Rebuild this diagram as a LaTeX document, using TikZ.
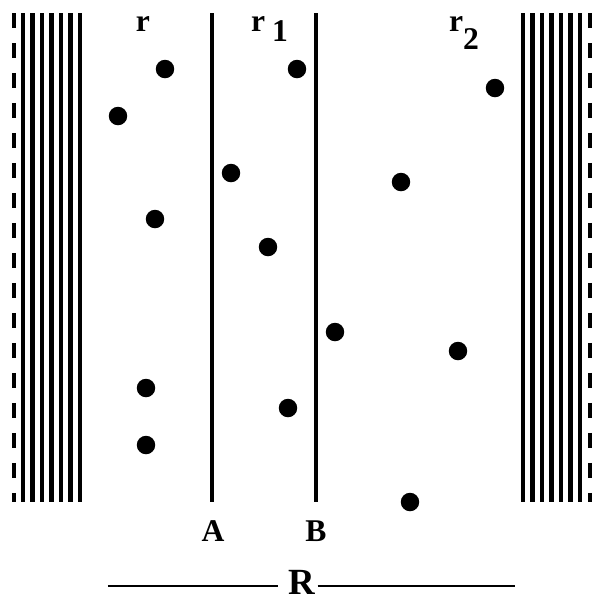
\documentclass[tikz,border=0pt]{standalone}
\usepackage{fontspec}
\setmainfont{Liberation Serif}[BoldFont={Liberation Serif Bold}]
\usepackage{tikz}
\usetikzlibrary{positioning}

\tikzset{
  particle/.style={circle, fill=black, inner sep=0pt, minimum size=0.37cm},
  lab/.style={font=\bfseries\fontsize{18}{18}\selectfont, inner sep=1pt},
  hatch/.style={line width=2.3pt},
  plane/.style={line width=2.4pt},
  wall/.style={line width=2.2pt, dash pattern=on 0.3cm off 0.3cm}
}

\begin{document}
\begin{tikzpicture}[x=0.02cm, y=-0.02cm]
\useasboundingbox (0,0) rectangle (594,600);

% walls
\draw[wall] (14,13) -- (14,502);
\draw[wall] (590,13) -- (590,502);
\foreach \x in {23,32.5,42,51.5,61,70.5,80}
  \draw[hatch] (\x,13) -- (\x,502);
\foreach \x in {523,532.5,542,551.5,561,570.5,580}
  \draw[hatch] (\x,13) -- (\x,502);

% planes A and B
\coordinate (topA) at (212,13);
\coordinate (botA) at (212,502);
\coordinate (topB) at (316,13);
\coordinate (botB) at (316,502);
\node[lab] (labA) at (213,531) {A};
\node[lab] (labB) at (316,531) {B};
\draw[plane] (topA) -- (botA);
\draw[plane] (topB) -- (botB);

% labels at the top
\node[lab, anchor=base] (r) at (143,31) {r};
\node[lab, anchor=base west] (r1) at (249,31) {r\hspace{4pt}\raisebox{-6pt}{1}};
\node[lab, anchor=base west] (r2) at (447,31) {r\raisebox{-10.5pt}{2}};

% particles
\foreach \n/\x/\y in {1/165/69, 2/297/69, 3/495/88, 4/118/116, 5/231/173,
    6/401/182, 7/155/219, 8/268/247, 9/335/332, 10/458/351, 11/146/388,
    12/288/408, 13/146/445, 14/410/502}
  \node[particle] (p\n) at (\x,\y) {};

% width R
\node[lab, font=\bfseries\fontsize{21}{21}\selectfont, inner sep=0pt] (R) at (302,582) {R};
\coordinate (Rl) at (108,586);
\coordinate (Rr) at (515,586);
\draw[line width=0.8pt, shorten >=0.2cm] (Rl) -- (Rl -| R.west);
\draw[line width=0.8pt, shorten <=0.04cm] (Rr -| R.east) -- (Rr);

\end{tikzpicture}
\end{document}
